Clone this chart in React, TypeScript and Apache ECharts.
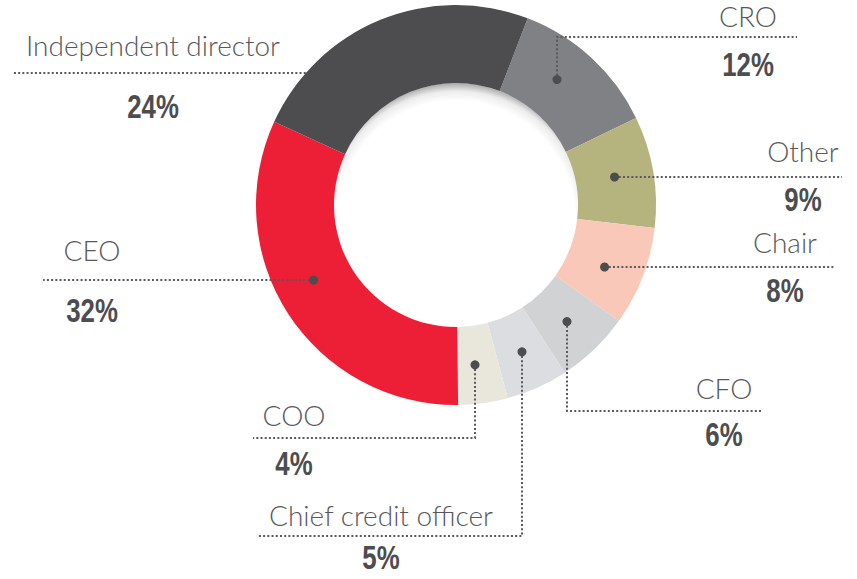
import React, { useEffect, useRef } from "react";
import * as echarts from "echarts";

// ---- data ----
const categories = [
  "CRO",
  "Other",
  "Chair",
  "CFO",
  "Chief credit officer",
  "COO",
  "CEO",
  "Independent director",
];
const shares = [12, 9, 8, 6, 5, 4, 32, 24];
const percentLabels = ["12%", "9%", "8%", "6%", "5%", "4%", "32%", "24%"];
const sliceColors = [
  "#808184",
  "#b5b47f",
  "#f9c8b8",
  "#d1d2d4",
  "#dcdde0",
  "#e9e7dc",
  "#ed1f36",
  "#4d4d4f",
];

// ---- layout ----
const CX = 456;
const CY = 205;
const R_OUT = 200;
const R_IN = 122;
const R_MID = (R_OUT + R_IN) / 2;

type Leader = {
  kind: "h" | "v" | "edge";
  at: number;
  elbow?: number;
  end: number;
  tx: number;
  nameY: number;
  pctY: number;
};
const leaders: Leader[] = [
  { kind: "v", at: 557, elbow: 37, end: 797, tx: 748, nameY: 16, pctY: 64 },
  { kind: "h", at: 177, end: 842, tx: 803, nameY: 151, pctY: 199 },
  { kind: "h", at: 267, end: 835, tx: 785, nameY: 242, pctY: 290 },
  { kind: "v", at: 567, elbow: 411, end: 762, tx: 724, nameY: 388, pctY: 434 },
  { kind: "v", at: 522, elbow: 536, end: 258, tx: 381, nameY: 515, pctY: 557 },
  { kind: "v", at: 475, elbow: 438, end: 253, tx: 294, nameY: 415, pctY: 463 },
  { kind: "h", at: 280, end: 43, tx: 92, nameY: 250, pctY: 310 },
  { kind: "edge", at: 73, end: 12, tx: 153, nameY: 45, pctY: 106 },
];

const NAME_FONT = "Lato";
const PCT_FONT = "Liberation Sans";
const LINE_COLOR = "#59595b";
const DOT_COLOR = "#4d4d4f";

function buildGraphics() {
  const els: any[] = [];
  els.push({
    type: "circle",
    z: 1,
    silent: true,
    shape: { cx: CX, cy: CY, r: R_IN },
    style: {
      fill: {
        type: "radial",
        x: 0.5,
        y: 0.56,
        r: 0.56,
        colorStops: [
          { offset: 0, color: "#ffffff" },
          { offset: 0.87, color: "#ffffff" },
          { offset: 0.94, color: "#ececec" },
          { offset: 1, color: "#a9a9a9" },
        ],
      },
    },
  });
  leaders.forEach((L, i) => {
    let pts: number[][] = [];
    let dot: number[] | null = null;
    if (L.kind === "h") {
      const dy = L.at - CY;
      const sx = Math.sign(L.end - CX);
      const x = CX + sx * Math.sqrt(R_MID * R_MID - dy * dy);
      dot = [x, L.at];
      pts = [[x, L.at], [L.end, L.at]];
    } else if (L.kind === "v") {
      const dx = L.at - CX;
      const sy = Math.sign((L.elbow as number) - CY);
      const y = CY + sy * Math.sqrt(R_MID * R_MID - dx * dx);
      dot = [L.at, y];
      pts = [[L.at, y], [L.at, L.elbow as number], [L.end, L.elbow as number]];
    } else {
      const dy = L.at - CY;
      const sx = Math.sign(L.end - CX);
      const x = CX + sx * Math.sqrt(R_OUT * R_OUT - dy * dy);
      pts = [[x, L.at], [L.end, L.at]];
    }
    els.push({
      type: "polyline",
      z: 100,
      silent: true,
      shape: { points: pts },
      style: { stroke: LINE_COLOR, lineWidth: 2, lineDash: [2, 2.2], fill: null },
    });
    if (dot) {
      els.push({
        type: "circle",
        z: 101,
        silent: true,
        shape: { cx: dot[0], cy: dot[1], r: 4.5 },
        style: { fill: DOT_COLOR },
      });
    }
    els.push({
      type: "text",
      z: 100,
      silent: true,
      x: L.tx,
      y: L.nameY,
      style: {
        text: categories[i],
        fill: "#58585a",
        fontFamily: NAME_FONT,
        fontWeight: 300,
        fontSize: 28,
        align: "center",
        verticalAlign: "middle",
      },
    });
    els.push({
      type: "text",
      z: 100,
      silent: true,
      x: L.tx,
      y: L.pctY,
      scaleX: 0.76,
      style: {
        text: percentLabels[i],
        fill: "#4d4d4f",
        fontFamily: PCT_FONT,
        fontWeight: "bold",
        fontSize: 34,
        align: "center",
        verticalAlign: "middle",
      },
    });
  });
  return els;
}

export default function App() {
  const ref = useRef<HTMLDivElement>(null);
  useEffect(() => {
    if (!ref.current) return;
    const chart = echarts.init(ref.current, null, { renderer: "svg" });
    chart.setOption({
      animation: false,
      backgroundColor: "#ffffff",
      series: [
        {
          type: "pie",
          center: [CX, CY],
          radius: [R_IN, R_OUT],
          startAngle: 69,
          clockwise: true,
          silent: true,
          label: { show: false },
          labelLine: { show: false },
          emphasis: { disabled: true },
          itemStyle: { borderWidth: 0 },
          data: categories.map((c, i) => ({
            name: c,
            value: shares[i],
            itemStyle: { color: sliceColors[i] },
          })),
        },
      ],
      graphic: { elements: buildGraphics() },
    });
    return () => chart.dispose();
  }, []);
  return (
    <div
      ref={ref}
      style={{ position: "fixed", left: 0, top: 0, width: 857, height: 579 }}
    />
  );
}
